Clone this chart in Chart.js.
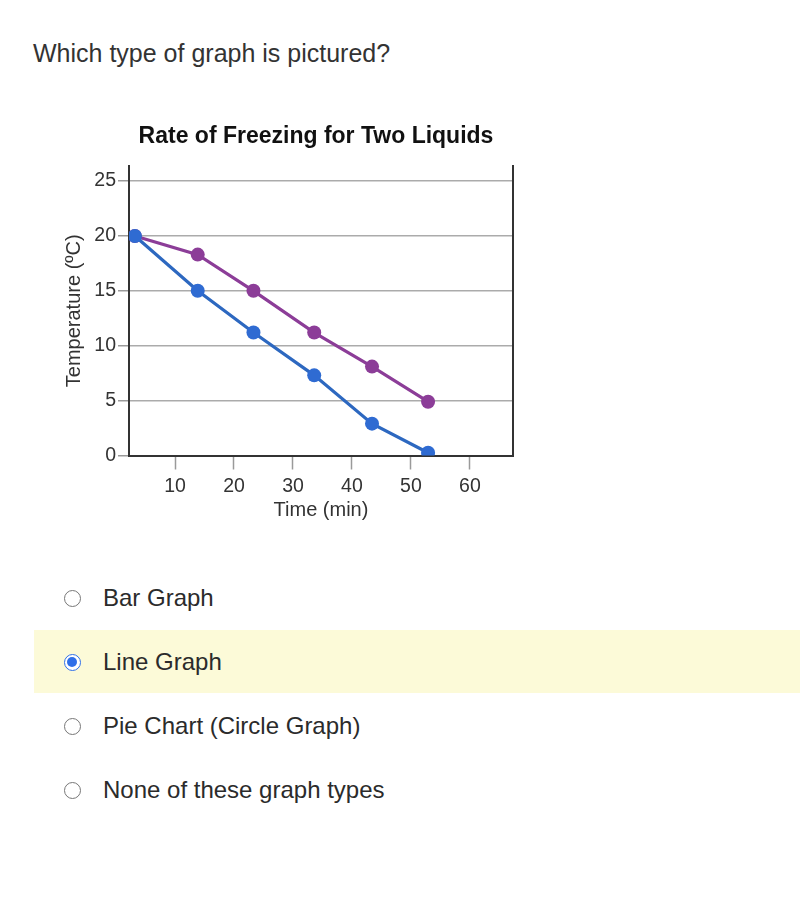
<!DOCTYPE html>
<html>
<head>
<meta charset="utf-8">
<script src="https://cdn.jsdelivr.net/npm/chart.js@4.4.1/dist/chart.umd.min.js"></script>
<style>
  html, body { margin: 0; padding: 0; background: #fff; }
  body { width: 800px; height: 903px; position: relative; overflow: hidden; font-family: "Liberation Sans", Arial, sans-serif; color: #333; }
  .q { position: absolute; left: 33px; top: 40.5px; font-size: 25px; line-height: 25px; white-space: nowrap; }
  #wrap { position: absolute; left: 0; top: 100px; width: 632px; height: 440px; }
  .hl { position: absolute; left: 34px; top: 630px; width: 766px; height: 63px; background: #fcfad8; }
  .opt { position: absolute; left: 103px; font-size: 24px; line-height: 24px; white-space: nowrap; color: #2b2b2b; }
  .rad { position: absolute; left: 63.5px; width: 15px; height: 15px; border: 1.5px solid #777; border-radius: 50%; background: #fff; }
  .rad.on { border: 1.5px solid #2f6fe8; }
  .rad.on::after { content: ""; position: absolute; left: 2.5px; top: 2.5px; width: 10px; height: 10px; border-radius: 50%; background: #2f6fe8; }
</style>
</head>
<body>
<div class="q">Which type of graph is pictured?</div>
<div id="wrap"><canvas id="c" width="632" height="440" style="width:632px;height:440px"></canvas></div>
<div class="hl"></div>
<div class="rad" style="top:589.5px"></div>
<div class="opt" style="top:586.4px">Bar Graph</div>
<div class="rad on" style="top:653.5px"></div>
<div class="opt" style="top:650.4px">Line Graph</div>
<div class="rad" style="top:717.5px"></div>
<div class="opt" style="top:714.4px">Pie Chart (Circle Graph)</div>
<div class="rad" style="top:781.5px"></div>
<div class="opt" style="top:778.4px">None of these graph types</div>
<script>
const chartTitle = "Rate of Freezing for Two Liquids";
const xTitle = "Time (min)";
const yTitle = "Temperature (ºC)";
const times = [3.2, 13.85, 23.3, 33.6, 43.4, 52.9];
const liquidBlue = [20, 15, 11.2, 7.3, 2.9, 0.25];
const liquidPurple = [20, 18.3, 15, 11.2, 8.1, 4.9];
const xTicks = [10, 20, 30, 40, 50, 60];
const yTicks = [0, 5, 10, 15, 20, 25];

const FONT = "'Liberation Sans', Arial, sans-serif";
const pts = (ys) => times.map((t, i) => ({ x: t, y: ys[i] }));

new Chart(document.getElementById('c'), {
  type: 'line',
  data: {
    datasets: [
      { label: 'Liquid 1', data: pts(liquidBlue), borderColor: '#2d68c0', backgroundColor: '#2f6bd2',
        pointBackgroundColor: '#2f6bd2', pointBorderColor: '#2f6bd2', borderWidth: 3.2, pointRadius: 7, pointBorderWidth: 0, tension: 0, yAxisID: 'y' },
      { label: 'Liquid 2', data: pts(liquidPurple), borderColor: '#8c3d98', backgroundColor: '#8c3d98',
        pointBackgroundColor: '#8c3d98', pointBorderColor: '#8c3d98', borderWidth: 3.2, pointRadius: 7, pointBorderWidth: 0, tension: 0, yAxisID: 'y' }
    ]
  },
  options: {
    responsive: false,
    animation: false,
    devicePixelRatio: 1,
    layout: { padding: { left: 0, right: 0, top: 0, bottom: 14.5 } },
    plugins: {
      legend: { display: false },
      tooltip: { enabled: false },
      title: { display: true, text: chartTitle, color: '#111',
        font: { family: FONT, size: 23, weight: 'bold', lineHeight: 1.2 },
        padding: { top: 22.5, bottom: 15.9 } }
    },
    scales: {
      x: {
        type: 'linear', min: 2.2, max: 67.3,
        afterBuildTicks: (s) => { s.ticks = xTicks.map(v => ({ value: v })); },
        afterFit: (s) => { s.height = 70; },
        ticks: { color: '#333', padding: 5.5, font: { family: FONT, size: 19.5 }, includeBounds: false },
        grid: { drawOnChartArea: false, drawTicks: true, tickLength: 14, tickColor: '#9a9a9a', tickWidth: 1.5 },
        border: { display: true, color: '#333', width: 2 },
        title: { display: true, text: xTitle, color: '#333', font: { family: FONT, size: 20, lineHeight: 1.2 }, padding: { top: 0, bottom: 3.2 } }
      },
      y: {
        type: 'linear', position: 'left', min: 0, max: 26.37,
        afterBuildTicks: (s) => { s.ticks = yTicks.map(v => ({ value: v })); },
        afterFit: (s) => { s.width = 129; },
        ticks: { color: '#333', padding: 2, font: { family: FONT, size: 19.5 }, includeBounds: false },
        grid: { color: '#ababab', lineWidth: 1.5, drawTicks: true, tickLength: 11, tickColor: '#9a9a9a', tickWidth: 1.5 },
        border: { display: true, color: '#333', width: 2 },
        title: { display: true, text: yTitle, color: '#333', font: { family: FONT, size: 20, lineHeight: 1.2 }, padding: { top: 62.1, bottom: 0 } }
      },
      y2: {
        type: 'linear', position: 'right', min: 0, max: 26.37,
        afterFit: (s) => { s.width = 119; },
        ticks: { display: false },
        grid: { display: false, drawTicks: false },
        border: { display: true, color: '#333', width: 2 }
      }
    }
  }
});
</script>
</body>
</html>
